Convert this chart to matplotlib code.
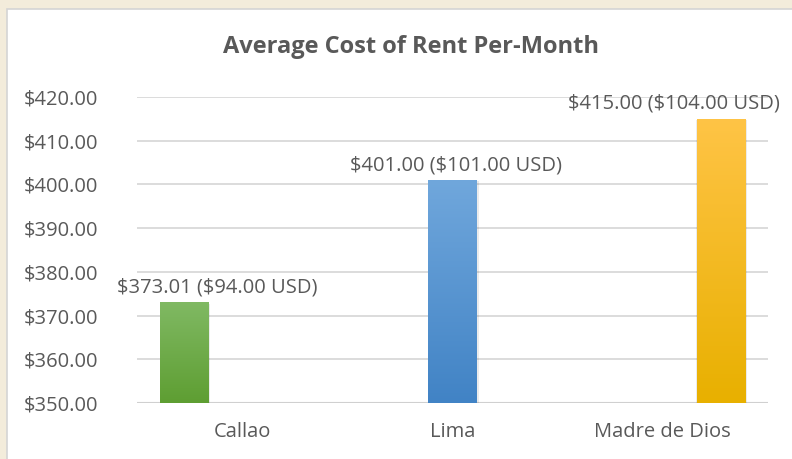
import numpy as np
import matplotlib
matplotlib.use("Agg")
import matplotlib.pyplot as plt
from matplotlib.colors import LinearSegmentedColormap
from matplotlib.patches import Rectangle

# data
categories = ["Callao", "Lima", "Madre de Dios"]
rent_local = [373.01, 401.00, 415.00]
rent_usd = [94.00, 101.00, 104.00]
yticks = [350, 360, 370, 380, 390, 400, 410, 420]

# gradient colours (top, bottom) for each series
grads = [("#80b963", "#5e9e32"), ("#70a7dc", "#4183c5"), ("#ffc446", "#e8b000")]
label_shift = [33, 3, -47]  # px, label nudges as in the original

plt.rcParams['font.family'] = ['Open Sans', 'DejaVu Sans']
plt.rcParams['text.parse_math'] = False
txt = "#595959"

fig = plt.figure(figsize=(7.92, 4.59), dpi=100)
fig.patch.set_facecolor("#f3ecdb")
panel = Rectangle((7 / 792, -0.05), 1.0, 1 - 9 / 459 + 0.05, transform=fig.transFigure,
                  facecolor="white", edgecolor="#d4d4d4", lw=1.2, zorder=-10)
fig.patches.append(panel)

ax = fig.add_axes([137 / 792, 1 - 403 / 459, (768 - 137) / 792, (403 - 97) / 459])
ax.set_facecolor("none")

n = len(categories)
width = 0.229
step = 0.276
x = np.arange(n)
for i in range(n):
    xi = x[i] + (i - 1) * step
    bar = ax.bar(xi, rent_local[i] - 350, width=width, bottom=350, color="none",
                 zorder=3)[0]
    # soft shadow
    ax.bar(xi + 0.004, rent_local[i] - 350, width=width + 0.012, bottom=349.7,
           color="#000000", alpha=0.08, zorder=2, lw=0)
    cmap = LinearSegmentedColormap.from_list("g%d" % i, [grads[i][1], grads[i][0]])
    grad = np.linspace(0, 1, 256).reshape(-1, 1)
    im = ax.imshow(grad, cmap=cmap, aspect="auto", origin="lower",
                   extent=(xi - width / 2, xi + width / 2, 350, rent_local[i]), zorder=3)
    im.set_clip_path(bar)
    ax.annotate("$%.2f ($%.2f USD)" % (rent_local[i], rent_usd[i]),
                xy=(xi, rent_local[i]), xytext=(label_shift[i], 5),
                textcoords="offset pixels", ha="center", va="bottom",
                fontsize=14.5, color=txt, zorder=5, annotation_clip=False)

ax.set_xlim(-0.5, n - 0.5)
ax.set_ylim(350, 420)
ax.set_yticks(yticks)
ax.set_yticklabels(["$%.2f" % v for v in yticks])
ax.set_xticks(x)
ax.set_xticklabels(categories)
ax.tick_params(axis="both", length=0, labelsize=14.5, labelcolor=txt)
ax.tick_params(axis="y", pad=28)
ax.tick_params(axis="x", pad=14)
ax.grid(axis="y", color="#d9d9d9", lw=1.3, zorder=0)
ax.set_axisbelow(True)
for s in ax.spines.values():
    s.set_visible(False)
ax.axhline(350, color="#d0d0d0", lw=1.5, zorder=1)

fig.text(411 / 792, 1 - 47 / 459, "Average Cost of Rent Per-Month", ha="center",
         va="center", fontsize=17, fontweight="bold", color=txt)

fig.savefig("out.png", dpi=100, facecolor=fig.get_facecolor())
